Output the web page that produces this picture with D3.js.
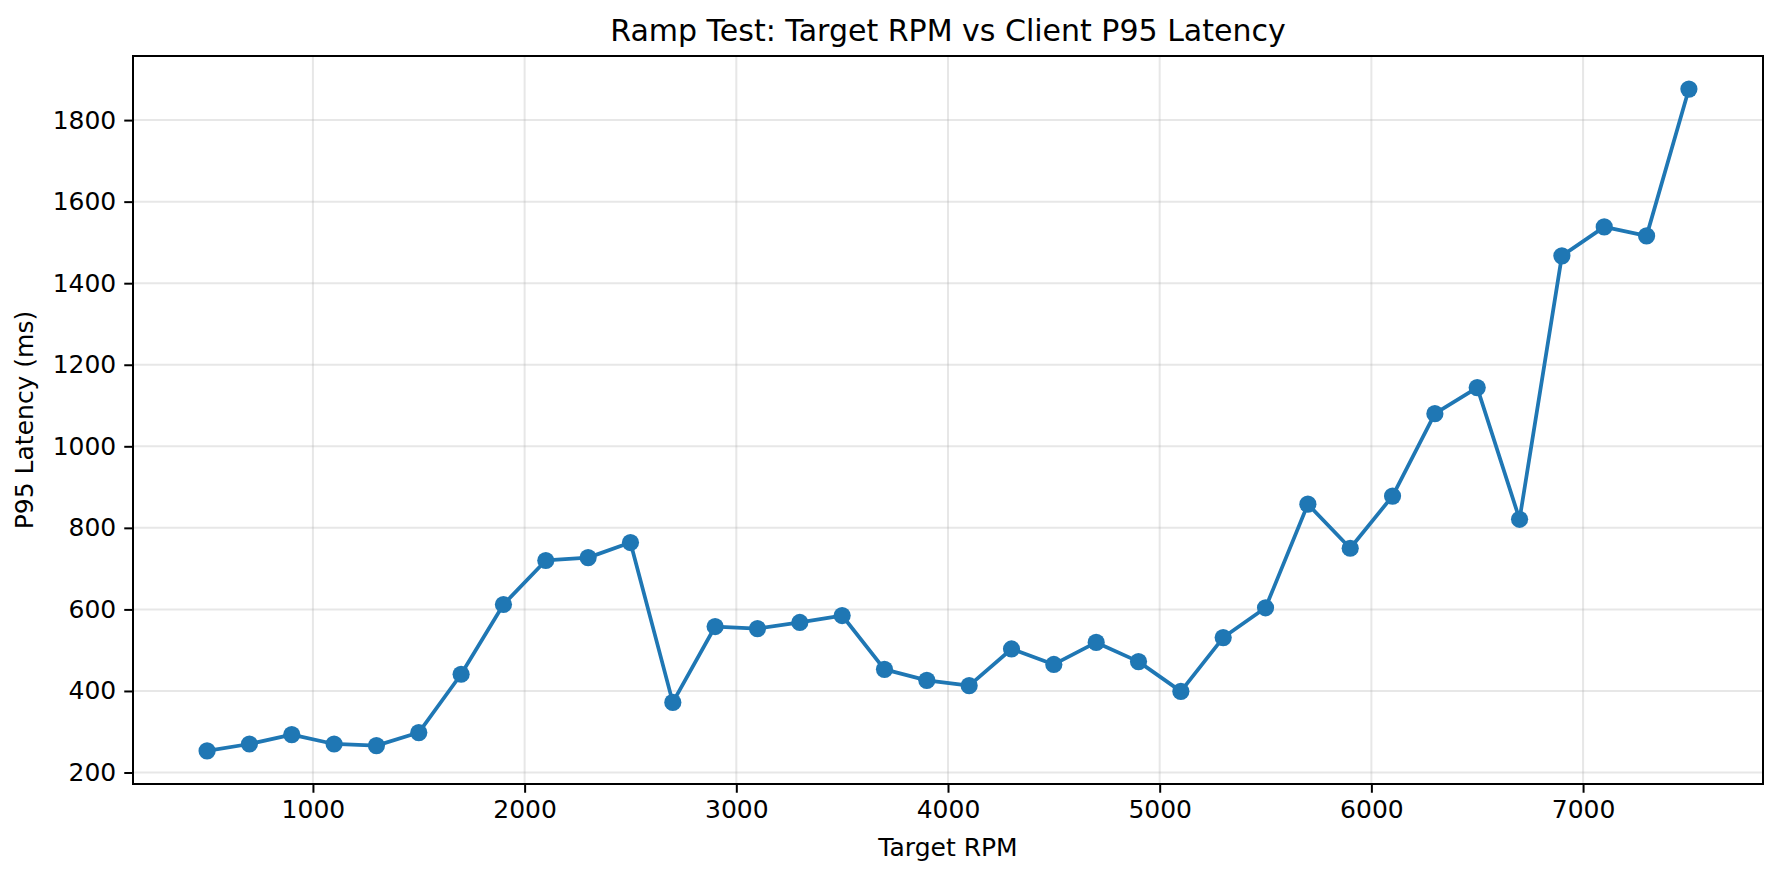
<!DOCTYPE html>
<html>
<head>
<meta charset="utf-8">
<script src="https://cdn.jsdelivr.net/npm/d3@7"></script>
<style>
  body { margin: 0; background: #fff; }
  svg { display: block; font-family: "DejaVu Sans", sans-serif; }
</style>
</head>
<body>
<div id="chart"></div>
<script>
// Ramp test data
const targetRpm = [500, 700, 900, 1100, 1300, 1500, 1700, 1900, 2100, 2300, 2500, 2700,
    2900, 3100, 3300, 3500, 3700, 3900, 4100, 4300, 4500, 4700, 4900, 5100,
    5300, 5500, 5700, 5900, 6100, 6300, 6500, 6700, 6900, 7100, 7300, 7500];
const p95Latency = [253, 270, 293, 270, 266, 298, 441, 612, 720, 727, 764, 372,
    558, 553, 568, 585, 453, 426, 413, 503, 465, 519, 472, 399,
    531, 604, 858, 750, 878, 1080, 1144, 821, 1467, 1538, 1516, 1876];
const xTicks = [1000, 2000, 3000, 4000, 5000, 6000, 7000];
const yTicks = [200, 400, 600, 800, 1000, 1200, 1400, 1600, 1800];

const width = 1780, height = 877;
const margin = { top: 56, right: 17, bottom: 93, left: 133 };
const innerW = width - margin.left - margin.right;
const innerH = height - margin.top - margin.bottom;
const blue = '#1f77b4';

const svg = d3.select('#chart')
    .append('svg')
    .attr('width', width)
    .attr('height', height);

// matplotlib-style 5% margins around the data
const pad = (lo, hi) => [lo - (hi - lo) * 0.05, hi + (hi - lo) * 0.05];
const x = d3.scaleLinear()
    .domain(pad(d3.min(targetRpm), d3.max(targetRpm)))
    .range([0, innerW]);
const y = d3.scaleLinear()
    .domain(pad(d3.min(p95Latency), d3.max(p95Latency)))
    .range([innerH, 0]);

const g = svg.append('g')
    .attr('transform', `translate(${margin.left},${margin.top})`);

// grid
g.append('g')
    .selectAll('line.vg')
    .data(xTicks)
    .join('line')
    .attr('x1', d => x(d)).attr('x2', d => x(d))
    .attr('y1', 0).attr('y2', innerH)
    .attr('stroke', '#b0b0b0').attr('stroke-opacity', 0.3).attr('stroke-width', 2);
g.append('g')
    .selectAll('line.hg')
    .data(yTicks)
    .join('line')
    .attr('y1', d => y(d)).attr('y2', d => y(d))
    .attr('x1', 0).attr('x2', innerW)
    .attr('stroke', '#b0b0b0').attr('stroke-opacity', 0.3).attr('stroke-width', 2);

// axes
const fmt = d3.format('d');
const xAxis = g.append('g')
    .attr('transform', `translate(0,${innerH})`)
    .call(d3.axisBottom(x).tickValues(xTicks).tickFormat(fmt).tickSize(8.75).tickPadding(7).tickSizeOuter(0));
const yAxis = g.append('g')
    .call(d3.axisLeft(y).tickValues(yTicks).tickFormat(fmt).tickSize(8.75).tickPadding(8).tickSizeOuter(0));
[xAxis, yAxis].forEach(a => {
    a.select('.domain').remove();
    a.selectAll('.tick line').attr('stroke', '#000').attr('stroke-width', 2);
    a.selectAll('.tick text')
        .attr('fill', '#000')
        .style('font-size', '25px')
        .style('font-family', '"DejaVu Sans", sans-serif');
});

// line and markers
const line = d3.line()
    .x((d, i) => x(targetRpm[i]))
    .y(d => y(d));
g.append('path')
    .datum(p95Latency)
    .attr('fill', 'none')
    .attr('stroke', blue)
    .attr('stroke-width', 3.75)
    .attr('stroke-linejoin', 'round')
    .attr('d', line);
g.append('g')
    .selectAll('circle')
    .data(p95Latency)
    .join('circle')
    .attr('cx', (d, i) => x(targetRpm[i]))
    .attr('cy', d => y(d))
    .attr('r', 8.6)
    .attr('fill', blue);

// frame
g.append('rect')
    .attr('width', innerW).attr('height', innerH)
    .attr('fill', 'none').attr('stroke', '#000').attr('stroke-width', 2);

// titles
svg.append('text')
    .attr('x', margin.left + innerW / 2)
    .attr('y', 41)
    .attr('text-anchor', 'middle')
    .style('font-size', '30px')
    .text('Ramp Test: Target RPM vs Client P95 Latency');
svg.append('text')
    .attr('x', margin.left + innerW / 2)
    .attr('y', 856)
    .attr('text-anchor', 'middle')
    .style('font-size', '25px')
    .text('Target RPM');
svg.append('text')
    .attr('transform', `translate(33,${margin.top + innerH / 2}) rotate(-90)`)
    .attr('text-anchor', 'middle')
    .style('font-size', '25px')
    .text('P95 Latency (ms)');
</script>
</body>
</html>
